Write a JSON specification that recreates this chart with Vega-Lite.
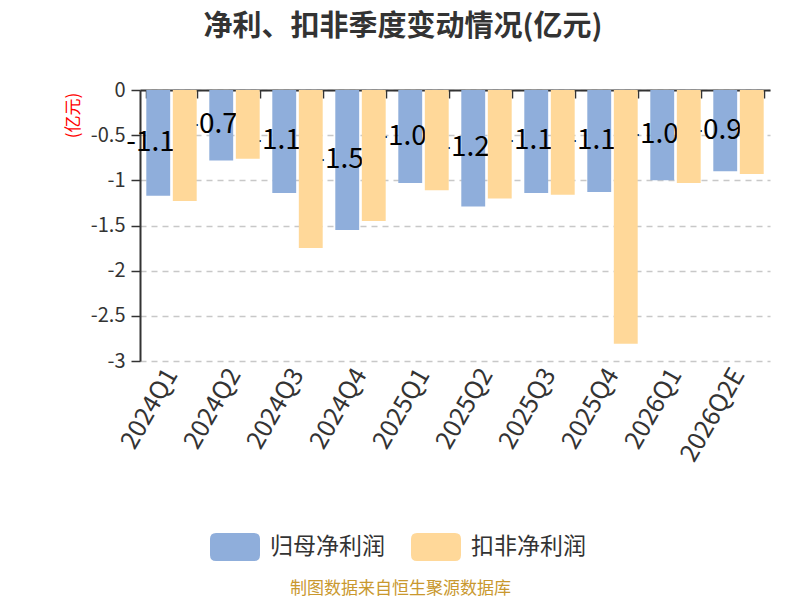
{
  "$schema": "https://vega.github.io/schema/vega-lite/v6.json",
  "width": 630,
  "height": 271,
  "autosize": {"type": "none"},
  "padding": {"left": 140, "top": 90, "right": 30, "bottom": 239},
  "background": "white",
  "title": {
    "text": "净利、扣非季度变动情况(亿元)",
    "fontSize": 29,
    "fontWeight": "bold",
    "color": "#333333",
    "font": "Noto Sans CJK SC",
    "anchor": "middle",
    "frame": "group",
    "dx": -52,
    "offset": 38
  },
  "data": {
    "values": [
      {"q": "2024Q1", "s": "归母净利润", "v": -1.17},
      {"q": "2024Q1", "s": "扣非净利润", "v": -1.23},
      {"q": "2024Q2", "s": "归母净利润", "v": -0.78},
      {"q": "2024Q2", "s": "扣非净利润", "v": -0.76},
      {"q": "2024Q3", "s": "归母净利润", "v": -1.14},
      {"q": "2024Q3", "s": "扣非净利润", "v": -1.75},
      {"q": "2024Q4", "s": "归母净利润", "v": -1.55},
      {"q": "2024Q4", "s": "扣非净利润", "v": -1.45},
      {"q": "2025Q1", "s": "归母净利润", "v": -1.03},
      {"q": "2025Q1", "s": "扣非净利润", "v": -1.11},
      {"q": "2025Q2", "s": "归母净利润", "v": -1.29},
      {"q": "2025Q2", "s": "扣非净利润", "v": -1.2},
      {"q": "2025Q3", "s": "归母净利润", "v": -1.14},
      {"q": "2025Q3", "s": "扣非净利润", "v": -1.16},
      {"q": "2025Q4", "s": "归母净利润", "v": -1.13},
      {"q": "2025Q4", "s": "扣非净利润", "v": -2.81},
      {"q": "2026Q1", "s": "归母净利润", "v": -1.0},
      {"q": "2026Q1", "s": "扣非净利润", "v": -1.03},
      {"q": "2026Q2E", "s": "归母净利润", "v": -0.9},
      {"q": "2026Q2E", "s": "扣非净利润", "v": -0.93}
    ]
  },
  "layer": [
    {
      "transform": [{"filter": "datum.s === '归母净利润'"}],
      "mark": {"type": "bar"},
      "encoding": {
        "x": {
          "field": "q",
          "type": "nominal",
          "sort": null,
          "scale": {"paddingInner": 0.2, "paddingOuter": 0.1},
          "axis": {
            "orient": "bottom",
            "domain": false,
            "ticks": false,
            "grid": false,
            "labelAngle": -60,
            "labelAlign": "right",
            "labelBaseline": "middle",
            "labelFontSize": 25,
            "labelColor": "#333333",
            "labelPadding": 9,
            "labelFont": "Noto Sans CJK SC",
            "title": "制图数据来自恒生聚源数据库",
            "titleFontSize": 17,
            "titleFontWeight": "normal",
            "titleColor": "#C9982E",
            "titleFont": "Noto Sans CJK SC",
            "titleX": 260,
            "titleY": 227,
            "titleAlign": "center",
            "titleBaseline": "middle"
          }
        },
        "xOffset": {
          "field": "s",
          "type": "nominal",
          "sort": null,
          "scale": {"domain": ["归母净利润", "扣非净利润"], "paddingInner": 0.1}
        },
        "y": {
          "field": "v",
          "type": "quantitative",
          "scale": {"domain": [-3, 0], "nice": false},
          "axis": {
            "values": [-3, -2.5, -2, -1.5, -1, -0.5, 0],
            "labelExpr": "'' + datum.value",
            "labelFontSize": 20,
            "labelColor": "#333333",
            "labelFont": "Noto Sans CJK SC",
            "labelPadding": 6,
            "domainColor": "#333333",
            "domainWidth": 2,
            "tickColor": "#333333",
            "tickSize": 9,
            "tickWidth": 1.5,
            "grid": true,
            "gridColor": "#C8C8C8",
            "gridDash": [6, 5],
            "gridWidth": 1.5,
            "title": "(亿元)",
            "titleColor": "#FF0000",
            "titleFontSize": 17,
            "titleFontWeight": "normal",
            "titleFont": "Noto Sans CJK SC",
            "titleAngle": -90,
            "titleX": -67,
            "titleY": 25,
            "titleAlign": "center",
            "titleBaseline": "middle"
          }
        },
        "color": {
          "field": "s",
          "type": "nominal",
          "scale": {"domain": ["归母净利润", "扣非净利润"], "range": ["#8FAEDB", "#FFD899"]},
          "legend": {
            "title": null,
            "orient": "none",
            "direction": "horizontal",
            "legendX": 70,
            "legendY": 432,
            "symbolType": "M-0.76,-0.56L0.76,-0.56Q1,-0.56,1,-0.32L1,0.32Q1,0.56,0.76,0.56L-0.76,0.56Q-1,0.56,-1,0.32L-1,-0.32Q-1,-0.56,-0.76,-0.56Z",
            "symbolSize": 2500,
            "symbolStrokeWidth": 0,
            "symbolOpacity": 1,
            "labelFontSize": 23,
            "labelColor": "#333333",
            "labelFont": "Noto Sans CJK SC",
            "labelOffset": 10,
            "columnPadding": 26
          }
        }
      }
    },
    {
      "transform": [{"filter": "datum.s === '归母净利润'"}],
      "mark": {"type": "text", "fontSize": 28, "color": "#000000", "font": "Noto Sans CJK SC", "baseline": "middle", "align": "center"},
      "encoding": {
        "x": {"field": "q", "type": "nominal", "sort": null, "axis": null},
        "xOffset": {
          "field": "s",
          "type": "nominal",
          "sort": null,
          "scale": {"domain": ["归母净利润", "扣非净利润"], "paddingInner": 0.1}
        },
        "y": {"field": "v", "type": "quantitative", "scale": {"domain": [-6, 0], "nice": false}, "axis": null},
        "text": {"field": "v", "type": "quantitative", "format": ".2f"}
      }
    },
    {
      "transform": [{"filter": "datum.s === '扣非净利润'"}],
      "mark": {"type": "bar"},
      "encoding": {
        "x": {
          "field": "q",
          "type": "nominal",
          "sort": null,
          "axis": {
            "orient": "top",
            "labels": false,
            "title": null,
            "grid": false,
            "domain": true,
            "domainColor": "#333333",
            "domainWidth": 2,
            "ticks": true,
            "tickColor": "#333333",
            "tickWidth": 1.5,
            "tickSize": -8,
            "tickBand": "extent"
          }
        },
        "xOffset": {
          "field": "s",
          "type": "nominal",
          "sort": null,
          "scale": {"domain": ["归母净利润", "扣非净利润"], "paddingInner": 0.1}
        },
        "y": {"field": "v", "type": "quantitative", "scale": {"domain": [-3, 0], "nice": false}, "axis": null},
        "color": {"field": "s", "type": "nominal", "scale": {"domain": ["归母净利润", "扣非净利润"], "range": ["#8FAEDB", "#FFD899"]}}
      }
    }
  ],
  "resolve": {"scale": {"y": "independent"}, "axis": {"x": "independent", "y": "independent"}},
  "config": {
    "view": {"stroke": null},
    "font": "Noto Sans CJK SC",
    "locale": {"number": {"decimal": ".", "thousands": ",", "grouping": [3], "currency": ["", ""], "minus": "-"}}
  }
}
